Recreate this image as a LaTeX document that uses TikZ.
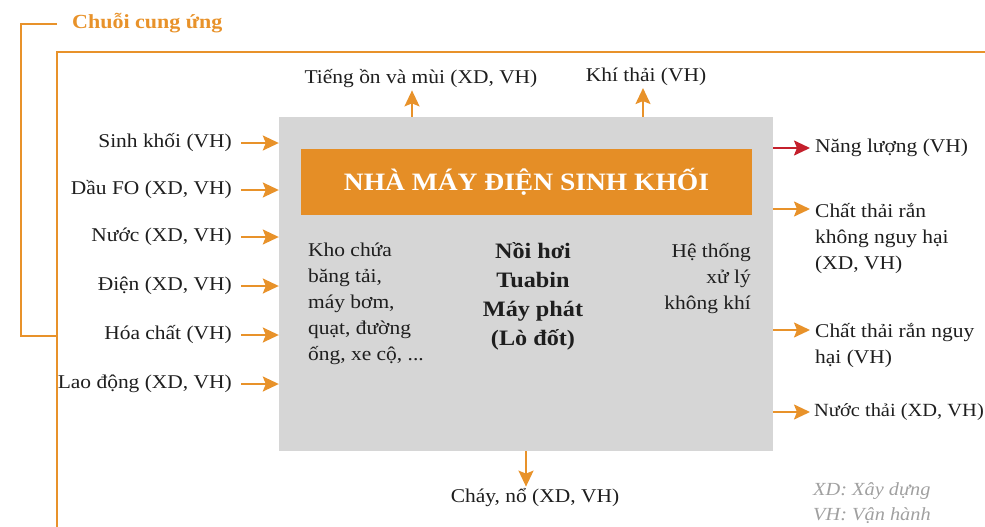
\documentclass[tikz,border=0pt]{standalone}
\usepackage{fontspec}
\setmainfont{Liberation Serif}[FakeStretch=1.1]
\usetikzlibrary{arrows.meta}
\definecolor{orng}{HTML}{E8922A}
\definecolor{titleor}{HTML}{E58E26}
\definecolor{boxgray}{HTML}{D6D6D6}
\definecolor{redarr}{HTML}{C4202C}
\definecolor{legendgray}{HTML}{A0A0A0}
\definecolor{txt}{HTML}{1E1E1E}
\begin{document}
\begin{tikzpicture}[x=1pt,y=-1pt,
 lbl/.style={font=\fontsize{19.5}{26}\selectfont, text=txt, inner sep=0pt},
 tip/.style={-{Stealth[length=16pt,width=15pt,inset=3pt]}},
 oarrow/.style={draw=orng, line width=2pt, tip},
 rarrow/.style={draw=redarr, line width=2pt, tip},
 frameline/.style={draw=orng, line width=2pt}]
\useasboundingbox (0,0) rectangle (985,527);
% supply chain frame
\node[font=\bfseries\fontsize{20}{24}\selectfont, text=orng, anchor=west, inner sep=0pt] (chain) at (72,23) {Chuỗi cung ứng};
\draw[frameline] (57,24) -- (21,24) -- (21,336) -- (57,336);
\draw[frameline] (985,52) -- (57,52) -- (57,527);
% plant
\node[fill=boxgray, minimum width=494pt, minimum height=334pt, inner sep=0pt] (box) at (526,284) {};
\node[fill=titleor, minimum width=451pt, minimum height=66pt, inner sep=0pt, text=white, font=\bfseries\fontsize{25}{30}\selectfont] (title) at (526.5,182) {NHÀ MÁY ĐIỆN SINH KHỐI};
\node[lbl, align=left, anchor=north west] (equip) at (308,243) {Kho chứa\\băng tải,\\máy bơm,\\quạt, đường\\ống, xe cộ, ...};
\node[font=\bfseries\fontsize{22}{29}\selectfont, text=txt, align=center, anchor=north, inner sep=0pt] (core) at (533,242) {Nồi hơi\\Tuabin\\Máy phát\\(Lò đốt)};
\node[lbl, align=right, anchor=north east] (air) at (751,243) {Hệ thống\\xử lý\\không khí};
% inputs
\node[lbl, anchor=east] (i1) at (232,143) {Sinh khối (VH)};
\node[lbl, anchor=east] (i2) at (232,190) {Dầu FO (XD, VH)};
\node[lbl, anchor=east] (i3) at (232,237) {Nước (XD, VH)};
\node[lbl, anchor=east] (i4) at (232,286) {Điện (XD, VH)};
\node[lbl, anchor=east] (i5) at (232,335) {Hóa chất (VH)};
\node[lbl, anchor=east] (i6) at (232,384) {Lao động (XD, VH)};
\foreach \n in {i1,i2,i3,i4,i5,i6}{
  \draw[oarrow] ([xshift=9pt]\n.east) -- (\n.east -| box.west);
}
% top outputs
\node[lbl] (t1) at (421,79) {Tiếng ồn và mùi (XD, VH)};
\node[lbl] (t2) at (646,77) {Khí thải (VH)};
\coordinate (t1a) at (412,117);
\coordinate (t2a) at (643,117);
\draw[oarrow, shorten >=2pt] (box.north -| t1a) -- (t1a |- t1.south);
\draw[oarrow, shorten >=2pt] (box.north -| t2a) -- (t2a |- t2.south);
% right outputs
\node[lbl, anchor=west] (o1) at (815,148) {Năng lượng (VH)};
\draw[rarrow] (box.east |- o1.west) -- ([xshift=-5pt]o1.west);
\coordinate (o2a) at (815,209);
\node[lbl, align=left, anchor=north west] (o2) at (815,203) {Chất thải rắn\\không nguy hại\\(XD, VH)};
\draw[oarrow] (box.east |- o2a) -- ([xshift=-5pt]o2a);
\coordinate (o3a) at (815,330);
\node[lbl, align=left, anchor=north west] (o3) at (815,323) {Chất thải rắn nguy\\hại (VH)};
\draw[oarrow] (box.east |- o3a) -- ([xshift=-5pt]o3a);
\node[lbl, font=\fontsize{18.6}{26}\selectfont, anchor=west] (o4) at (814,412) {Nước thải (XD, VH)};
\draw[oarrow] (box.east |- o4.west) -- ([xshift=-4pt]o4.west);
% bottom output
\node[lbl] (b1) at (535,498) {Cháy, nổ (XD, VH)};
\coordinate (b1a) at (526,451);
\draw[oarrow, shorten >=2pt] (box.south -| b1a) -- (b1a |- b1.north);
% legend
\node[font=\itshape\fontsize{18.5}{25}\selectfont, text=legendgray, align=left, anchor=north west, inner sep=0pt] (legend) at (813,482) {XD: Xây dựng\\VH: Vận hành};
\end{tikzpicture}
\end{document}
